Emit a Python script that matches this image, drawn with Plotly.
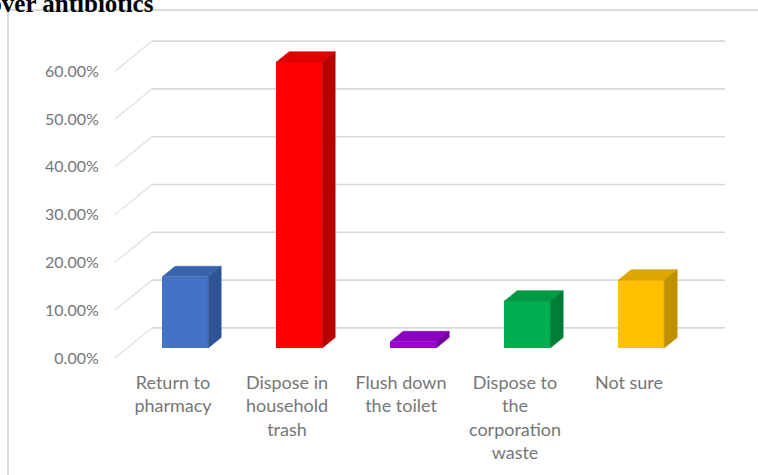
import plotly.graph_objects as go

# Survey responses: how leftover antibiotics are disposed of (percent of respondents)
categories = ["Return to pharmacy", "Dispose in household trash", "Flush down the toilet",
              "Dispose to the corporation waste", "Not sure"]
tick_labels = ["Return to<br>pharmacy", "Dispose in<br>household<br>trash", "Flush down<br>the toilet",
               "Dispose to<br>the<br>corporation<br>waste", "Not sure"]
values = [14.9, 59.8, 1.3, 9.8, 14.2]
y_ticks = [0, 10, 20, 30, 40, 50, 60]

front_colors = ["#4472C4", "#FF0000", "#A000D8", "#00B050", "#FFC000"]
top_colors = ["#3A63AE", "#E00000", "#8A00BE", "#009A45", "#DDA500"]
side_colors = ["#2F5496", "#B80000", "#7200A0", "#007E37", "#BF9000"]

W, H = 758, 475
L, R, T, B = 112, 0, 0, 105
SLOT_PX = 114.0            # pixels per category slot
PCT_PX = 4.78              # pixels per percent
x0 = -(173 - L) / SLOT_PX
x1 = x0 + (W - L - R) / SLOT_PX
y0 = -(H - B - 358) / PCT_PX
y1 = 358 / PCT_PX

# oblique depth of the 3-D box: full depth in axis units
DX = 37 / SLOT_PX
DY = 6.3
T_FRONT, T_BACK = 0.33, 0.68   # bar depth range inside the box
HW = 23 / SLOT_PX              # half bar width

wall_left = -0.5088
wall_right = 4.842

fig = go.Figure()

# back wall gridlines and the diagonal side-wall lines (kept beneath the columns)
for v in y_ticks:
    fig.add_shape(type="line", xref="x", yref="y", x0=wall_left + DX, x1=wall_right,
                  y0=v + DY, y1=v + DY, line=dict(color="#D9D9D9", width=1.6), layer="below")
    fig.add_shape(type="line", xref="x", yref="y", x0=wall_left, x1=wall_left + DX,
                  y0=v, y1=v + DY, line=dict(color="#E0E0E0", width=1.2), layer="below")

# 3-D columns: top face, side face, then front face
for i, v in enumerate(values):
    xl1 = i + DX * T_FRONT - HW
    xr1 = i + DX * T_FRONT + HW
    xl2 = i + DX * T_BACK - HW
    xr2 = i + DX * T_BACK + HW
    yb1 = DY * T_FRONT
    yb2 = DY * T_BACK
    yt1 = yb1 + v
    yt2 = yb2 + v
    fig.add_trace(go.Scatter(x=[xl1, xr1, xr2, xl2, xl1], y=[yt1, yt1, yt2, yt2, yt1],
                             fill="toself", fillcolor=top_colors[i], mode="lines",
                             line=dict(width=0.6, color=top_colors[i]), hoverinfo="skip", showlegend=False))
    fig.add_trace(go.Scatter(x=[xr1, xr2, xr2, xr1, xr1], y=[yb1, yb2, yt2, yt1, yb1],
                             fill="toself", fillcolor=side_colors[i], mode="lines",
                             line=dict(width=0.6, color=side_colors[i]), hoverinfo="skip", showlegend=False))

fig.add_trace(go.Bar(x=[i + DX * T_FRONT for i in range(len(values))], y=values,
                     base=[DY * T_FRONT] * len(values), width=2 * HW,
                     marker=dict(color=front_colors, line=dict(width=0)),
                     hovertext=categories, showlegend=False))

fig.update_xaxes(range=[x0, x1], tickmode="array", tickvals=list(range(len(values))),
                 ticktext=tick_labels, showgrid=False, zeroline=False, showline=False,
                 ticks="", tickfont=dict(family="Lato", size=18, color="#767676"))
fig.update_yaxes(range=[y0, y1], tickmode="array", tickvals=y_ticks,
                 ticktext=[f"{v:.2f}%" for v in y_ticks], showgrid=False, zeroline=False,
                 showline=False, ticks="outside", ticklen=9, tickcolor="rgba(0,0,0,0)",
                 tickfont=dict(family="Lato", size=16, color="#767676"))

pw = W - L - R
ph = H - T - B
# chart frame
fig.add_shape(type="rect", xref="paper", yref="paper",
              x0=(8 - L) / pw, x1=(W + 10 - L) / pw, y0=1 - (H + 10) / ph, y1=1 - 10 / ph,
              line=dict(color="#CFCFCF", width=1.5), fillcolor="rgba(0,0,0,0)", layer="below")

fig.add_annotation(text="<b>Disposal of leftover antibiotics</b>", xref="paper", yref="paper",
                   x=(156 - L) / pw, y=1 - 19 / ph, xanchor="right", yanchor="bottom",
                   showarrow=False, font=dict(family="Liberation Serif", size=25, color="#000000"))

fig.update_layout(width=W, height=H, margin=dict(l=L, r=R, t=T, b=B, pad=0),
                  paper_bgcolor="white", plot_bgcolor="white", bargap=0)

fig.write_html("out.html")
